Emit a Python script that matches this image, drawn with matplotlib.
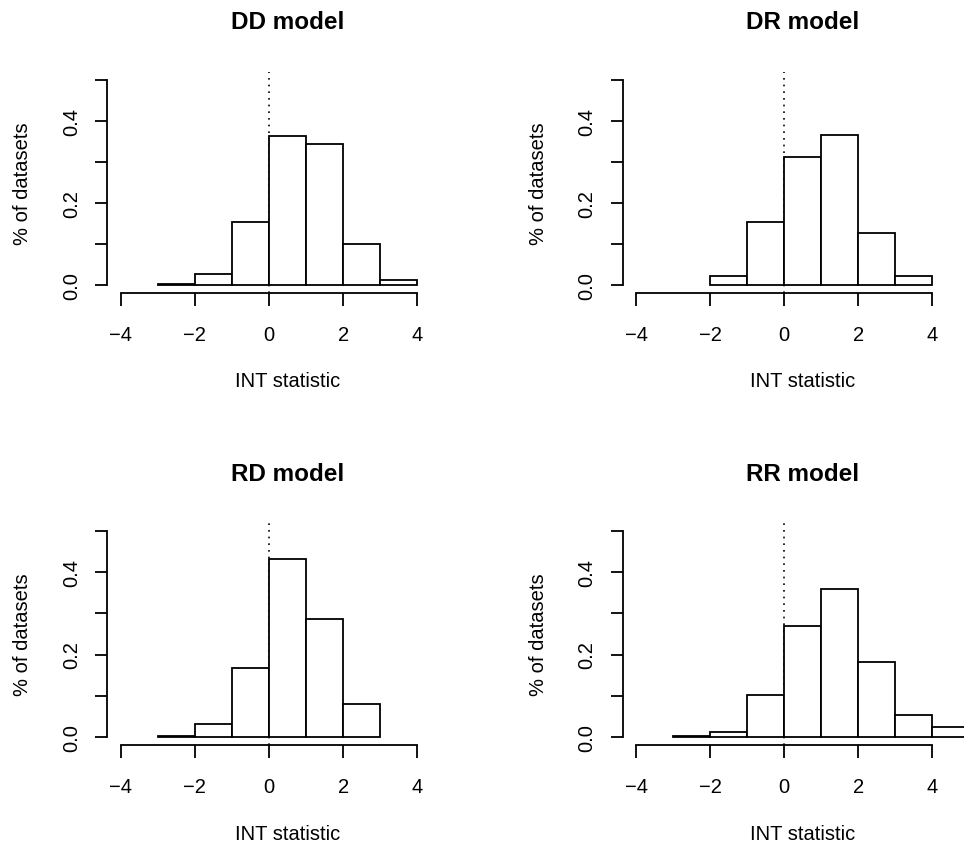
import matplotlib
matplotlib.use("Agg")
import matplotlib.pyplot as plt

plt.rcParams["font.family"] = ["Liberation Sans", "DejaVu Sans"]

FIG_W, FIG_H = 964, 845

titles = ["DD model", "DR model", "RD model", "RR model"]

dd_bins = [-3, -2, -1, 0, 1, 2, 3]
dd_props = [0.002, 0.027, 0.154, 0.362, 0.344, 0.099, 0.012]

dr_bins = [-2, -1, 0, 1, 2, 3]
dr_props = [0.022, 0.152, 0.312, 0.366, 0.126, 0.021]

rd_bins = [-3, -2, -1, 0, 1, 2]
rd_props = [0.002, 0.031, 0.168, 0.433, 0.287, 0.080]

rr_bins = [-3, -2, -1, 0, 1, 2, 3, 4]
rr_props = [0.002, 0.011, 0.101, 0.270, 0.359, 0.181, 0.054, 0.023]

x_ticks = [-4, -2, 0, 2, 4]
y_ticks = [0.0, 0.1, 0.2, 0.3, 0.4, 0.5]
y_labels = ["0.0", "", "0.2", "", "0.4", ""]

# plot regions in pixels: left, top, right, bottom
boxes = [
    (107.3, 72.5, 467.7, 293.9),
    (622.7, 72.5, 982.7, 293.9),
    (107.3, 524.1, 467.7, 745.9),
    (622.7, 524.1, 982.7, 745.9),
]


def px_to_rect(box):
    l, t, r, b = box
    return [l / FIG_W, 1 - b / FIG_H, (r - l) / FIG_W, (b - t) / FIG_H]


def draw_panel(ax, title, bins, props):
    h = 221.4
    ax.axvline(0, color="black", linestyle=(0, (1, 3)), linewidth=1.2, zorder=1)
    ax.bar(bins, props, width=1.0, align="edge", facecolor="white",
           edgecolor="black", linewidth=1.3, zorder=2)
    ax.set_xlim(-4.36, 5.36)
    ax.set_ylim(-0.02, 0.52)
    ax.set_xticks(x_ticks)
    ax.set_xticklabels([str(v).replace("-", "\u2212") for v in x_ticks])
    ax.set_yticks(y_ticks)
    ax.set_yticklabels(y_labels, rotation=90, va="center")
    for s in ("top", "right"):
        ax.spines[s].set_visible(False)
    ax.spines["bottom"].set_bounds(-4, 4)
    ax.spines["left"].set_bounds(0, 0.5)
    for s in ("bottom", "left"):
        ax.spines[s].set_linewidth(1.3)
    ax.tick_params(axis="both", length=9, width=1.3, labelsize=14.5)
    ax.tick_params(axis="x", pad=14)
    ax.tick_params(axis="y", pad=10)
    ax.set_xlabel("INT statistic", fontsize=14.5)
    ax.xaxis.set_label_coords(0.5, 1 - (382 - 72.5) / h)
    ax.xaxis.label.set_va("center")
    ax.set_ylabel("% of datasets", fontsize=14.5)
    ax.yaxis.set_label_coords((23 - 107.3) / 360.4, 0.5)
    ax.yaxis.label.set_va("center")
    ax.text(0.5, 1 + 50 / h, title, transform=ax.transAxes, ha="center",
            va="center", fontsize=17.5, fontweight="bold")


fig = plt.figure(figsize=(FIG_W / 100, FIG_H / 100), dpi=100)
panels = [(dd_bins, dd_props), (dr_bins, dr_props), (rd_bins, rd_props), (rr_bins, rr_props)]
for box, title, (bins, props) in zip(boxes, titles, panels):
    ax = fig.add_axes(px_to_rect(box))
    ax.patch.set_alpha(0)
    draw_panel(ax, title, bins, props)

fig.savefig("out.png", dpi=100, facecolor="white")
